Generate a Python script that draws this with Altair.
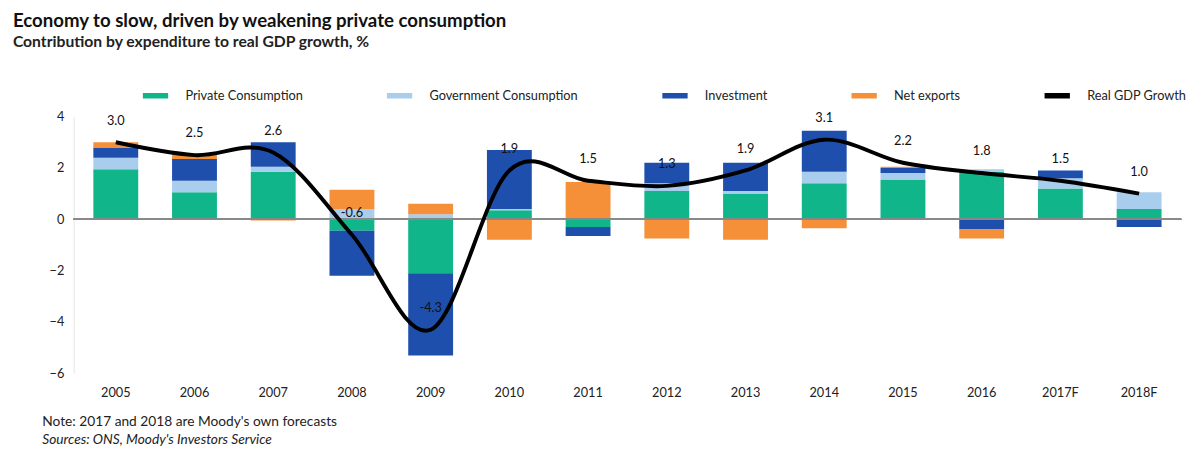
import altair as alt
import pandas as pd

years = ['2005', '2006', '2007', '2008', '2009', '2010', '2011',
         '2012', '2013', '2014', '2015', '2016', '2017F', '2018F']
private_cons = [1.95, 1.05, 1.85, -0.45, -2.1, 0.35, -0.3, 1.1, 1.0, 1.4, 1.55, 1.85, 1.2, 0.4]
gov_cons = [0.45, 0.45, 0.2, 0.4, 0.2, 0.05, 0.05, 0.3, 0.1, 0.45, 0.25, 0.1, 0.4, 0.65]
investment = [0.4, 0.85, 0.95, -1.75, -3.2, 2.3, -0.35, 0.8, 1.1, 1.6, 0.2, -0.4, 0.3, -0.3]
net_exports = [0.2, 0.2, -0.05, 0.75, 0.4, -0.8, 1.4, -0.75, -0.8, -0.35, 0.05, -0.35, 0.0, 0.0]
gdp = [3.0, 2.5, 2.6, -0.6, -4.3, 1.9, 1.5, 1.3, 1.9, 3.1, 2.2, 1.8, 1.5, 1.0]

series = ['Private Consumption', 'Government Consumption', 'Investment', 'Net exports']
colors = ['#10b58a', '#a9cdec', '#1f4fad', '#f59038']

rows = []
for i, y in enumerate(years):
    for k, (name, vals) in enumerate(zip(series, [private_cons, gov_cons, investment, net_exports])):
        rows.append({'year': y, 'series': name, 'value': vals[i], 'order': k})
bars_df = pd.DataFrame(rows)
line_df = pd.DataFrame({'year': years, 'gdp': gdp, 'series': 'Real GDP Growth',
                        'label': [f'{v:.1f}' for v in gdp]})

font = 'Lato'
W, H = 1130, 262
xenc = alt.X('year:O', sort=years, title=None,
             scale=alt.Scale(paddingInner=0.43, paddingOuter=0.25),
             axis=alt.Axis(labelAngle=0, ticks=False, domain=False, labelPadding=14,
                           labelFontSize=13, labelColor='#222', labelFont=font))
color = alt.Color('series:N', title=None,
                  scale=alt.Scale(domain=series + ['Real GDP Growth'], range=colors + ['#000000']),
                  legend=alt.Legend(orient='none', legendX=75, legendY=-30,
                                    direction='horizontal', columns=5,
                                    symbolType='M-1.6,-0.35H1.6V0.35H-1.6Z', symbolSize=260,
                                    symbolStrokeWidth=0, labelFontSize=13, labelFont=font,
                                    labelColor='#222', columnPadding=85, labelOffset=22,
                                    labelLimit=300))

bars = alt.Chart(bars_df).mark_bar(opacity=1).encode(
    x=xenc,
    y=alt.Y('sum(value):Q', title=None, scale=alt.Scale(domain=[-6, 4]),
            axis=alt.Axis(values=list(range(-6, 5)), labelOverlap=False, grid=False, ticks=False,
                          domainColor='#e6e6e6', labelFontSize=13, labelFont=font,
                          labelColor='#222', labelPadding=10)),
    color=color,
    order=alt.Order('order:Q'),
)

zero = alt.Chart(line_df).mark_rule(color='#888', strokeWidth=1).encode(y=alt.datum(0))

line = alt.Chart(line_df).mark_line(interpolate='cardinal', strokeWidth=4, color='black').encode(
    x=alt.X('year:O', sort=years), y='gdp:Q', color=color)

labels = alt.Chart(line_df).mark_text(dy=-22, fontSize=13, font=font, color='#111').encode(
    x=alt.X('year:O', sort=years), y='gdp:Q', text='label:N')

notes = pd.DataFrame({
    'text': ["Note: 2017 and 2018 are Moody's own forecasts",
             "Sources: ONS, Moody's Investors Service",
             "© 2017 Moody's Investors Service, Inc. and/or its licensors and affiliates. All rights reserved. Full terms of use at: moodys.com/termsofuse"],
})
note1 = alt.Chart(notes.iloc[[0]]).mark_text(align='left', fontSize=14, font=font, color='#222').encode(
    x=alt.value(-32), y=alt.value(H + 50), text='text:N')
note2 = alt.Chart(notes.iloc[[1]]).mark_text(align='left', fontSize=14, font=font, fontStyle='italic', color='#222').encode(
    x=alt.value(-32), y=alt.value(H + 68), text='text:N')
note3 = alt.Chart(notes.iloc[[2]]).mark_text(align='left', fontSize=11, font=font, color='#222').encode(
    x=alt.value(-32), y=alt.value(H + 97), text='text:N')

chart = alt.layer(bars, zero, line, labels, note1, note2, note3).properties(
    width=W, height=H,
    title=alt.TitleParams('Economy to slow, driven by weakening private consumption',
                          subtitle='Contribution by expenditure to real GDP growth, %',
                          anchor='start', font=font, fontSize=19, fontWeight='bold', color='#111',
                          subtitleFont=font, subtitleFontSize=16, subtitleFontWeight='bold',
                          subtitleColor='#222', offset=38, dx=-30),
    padding={'left': 5, 'top': 0, 'right': 5, 'bottom': 0},
).configure_view(stroke=None)

chart.save("out.html", embed_options={"renderer": "svg", "actions": False})
